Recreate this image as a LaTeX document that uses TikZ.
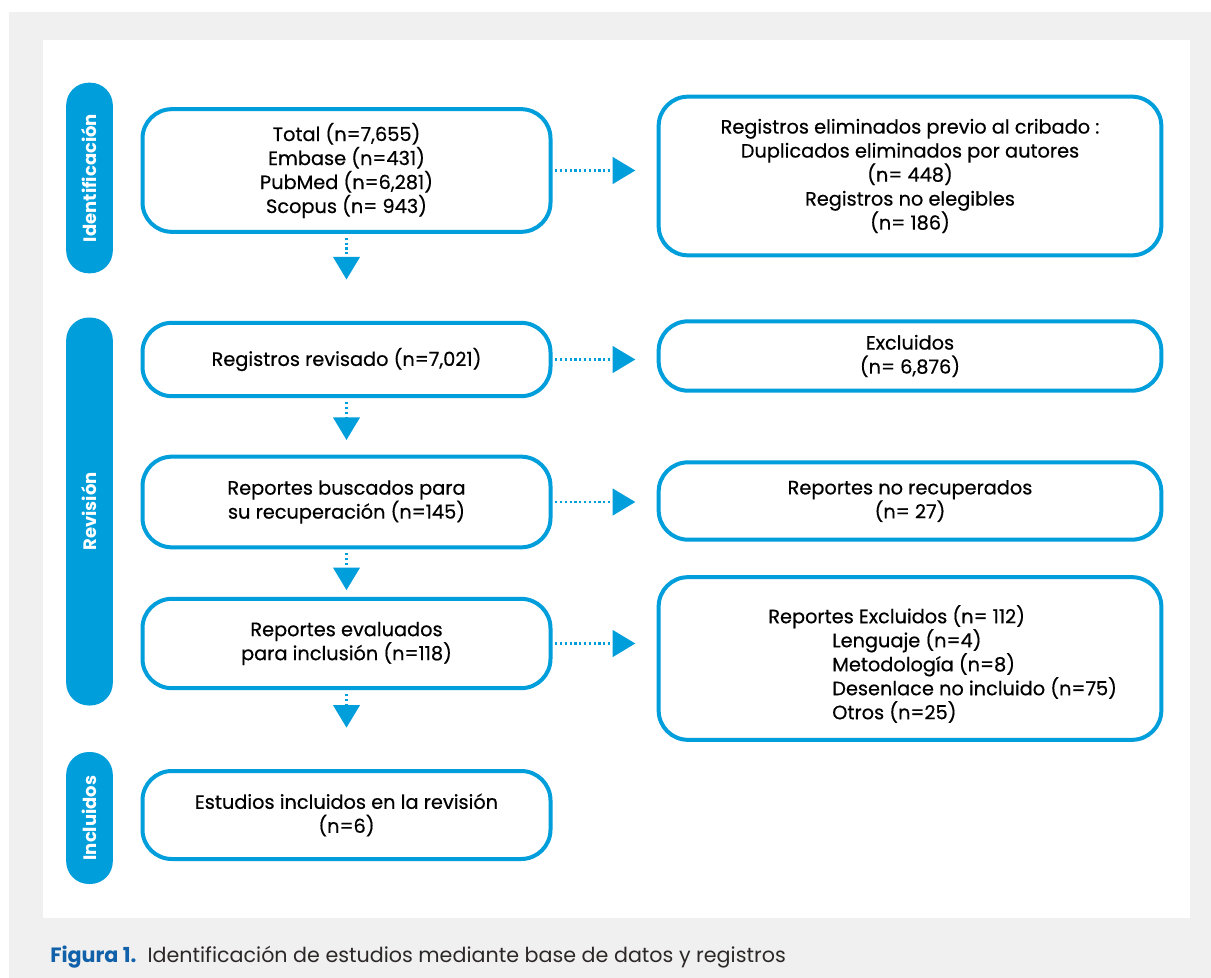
\documentclass[tikz,border=0pt]{standalone}
\usepackage{fontspec}
\setmainfont{Poppins}[UprightFeatures={FakeBold=0.5}]
\newfontfamily\capfont{Poppins}
\usetikzlibrary{arrows.meta}
\definecolor{myblue}{RGB}{0,158,219}
\definecolor{capblue}{RGB}{16,96,170}
\definecolor{bggray}{RGB}{240,240,240}
\definecolor{captext}{RGB}{45,40,40}
\tikzset{
  box/.style={draw=myblue, line width=3pt, rounded corners=22pt, fill=white,
    align=center, inner sep=0pt, font=\fontsize{14.5}{18}\selectfont, text=black},
  pill/.style={fill=myblue, rounded corners=17pt, rotate=90, text=white,
    font=\fontsize{13.5}{15}\selectfont\bfseries, minimum height=35pt, inner sep=0pt},
  dots/.style={myblue, line width=1.6pt, dash pattern=on 1.6pt off 2pt,
    -{Triangle[length=17pt,width=20pt]}},
}
\begin{document}
\begin{tikzpicture}[x=0.75pt,y=-0.75pt]
\useasboundingbox (0,0) rectangle (1211,978);
\fill[bggray] (9,12) rectangle (1211,978);
\fill[white] (43,40) rectangle (1190,918);

% side pills
\node[pill, minimum width=143pt] (p1) at (89.5,178) {Identificación};
\node[pill, minimum width=291pt] (p2) at (89.5,511.5) {Revisión};
\node[pill, minimum width=99pt] (p3) at (89.5,818) {Incluidos};

% left boxes
\node[box, minimum width=306pt, minimum height=92pt] (b1) at (346.5,170.5)
  {Total (n=7,655)\\Embase (n=431)\\PubMed (n=6,281)\\Scopus (n= 943)};
\node[box, minimum width=306pt, minimum height=55pt] (b2) at (346.5,359.5)
  {Registros revisado (n=7,021)};
\node[box, minimum width=306pt, minimum height=68pt] (b3) at (346.5,502)
  {Reportes buscados para\\su recuperación (n=145)};
\node[box, minimum width=306pt, minimum height=67pt] (b4) at (346.5,643.5)
  {Reportes evaluados\\para inclusión (n=118)};
\node[box, minimum width=306pt, minimum height=66pt] (b5) at (346.5,815)
  {Estudios incluidos en la revisión\\(n=6)};

% right boxes
\node[box, minimum width=377pt, minimum height=119pt] (r1) at (910,176)
  {Registros eliminados previo al cribado :\\Duplicados eliminados por autores\\(n= 448)\\Registros no elegibles\\(n= 186)};
\node[box, minimum width=377pt, minimum height=52pt] (r2) at (910,356)
  {Excluidos\\(n= 6,876)};
\node[box, minimum width=377pt, minimum height=58pt] (r3) at (910,501)
  {Reportes no recuperados\\(n= 27)};
\node[box, minimum width=377pt, minimum height=122pt] (r4) at (910,658.5) {};
\node[anchor=west, align=left, inner sep=0pt, font=\fontsize{14.5}{18}\selectfont] (r4t) at (768,664)
  {Reportes Excluidos (n= 112)\\
   \hspace*{48pt}Lenguaje (n=4)\\
   \hspace*{48pt}Metodología (n=8)\\
   \hspace*{48pt}Desenlace no incluido (n=75)\\
   \hspace*{48pt}Otros (n=25)};

% horizontal connectors
\draw[dots, shorten <=2pt, shorten >=16pt] (b1.east) -- (b1.east -| r1.west);
\draw[dots, shorten <=2pt, shorten >=16pt] (b2.east) -- (b2.east -| r2.west);
\draw[dots, shorten <=2pt, shorten >=16pt] (b3.east) -- (b3.east -| r3.west);
\draw[dots, shorten <=2pt, shorten >=16pt] (b4.east) -- (b4.east -| r4.west);

% vertical connectors
\draw[dots, shorten <=3pt, shorten >=31pt] (b1.south) -- (b2.north);
\draw[dots, shorten <=3pt, shorten >=11pt] (b2.south) -- (b3.north);
\draw[dots, shorten <=3pt, shorten >=5pt] (b3.south) -- (b4.north);
\draw[dots, shorten <=3pt, shorten >=31pt] (b4.south) -- (b5.north);

% caption
\node[anchor=west, inner sep=0pt, font=\capfont\fontsize{15.5}{18}\selectfont] (cap) at (50,957)
  {\textcolor{capblue}{\bfseries Figura 1.}\ \ \textcolor{captext}{Identificación de estudios mediante base de datos y registros}};
\end{tikzpicture}
\end{document}
